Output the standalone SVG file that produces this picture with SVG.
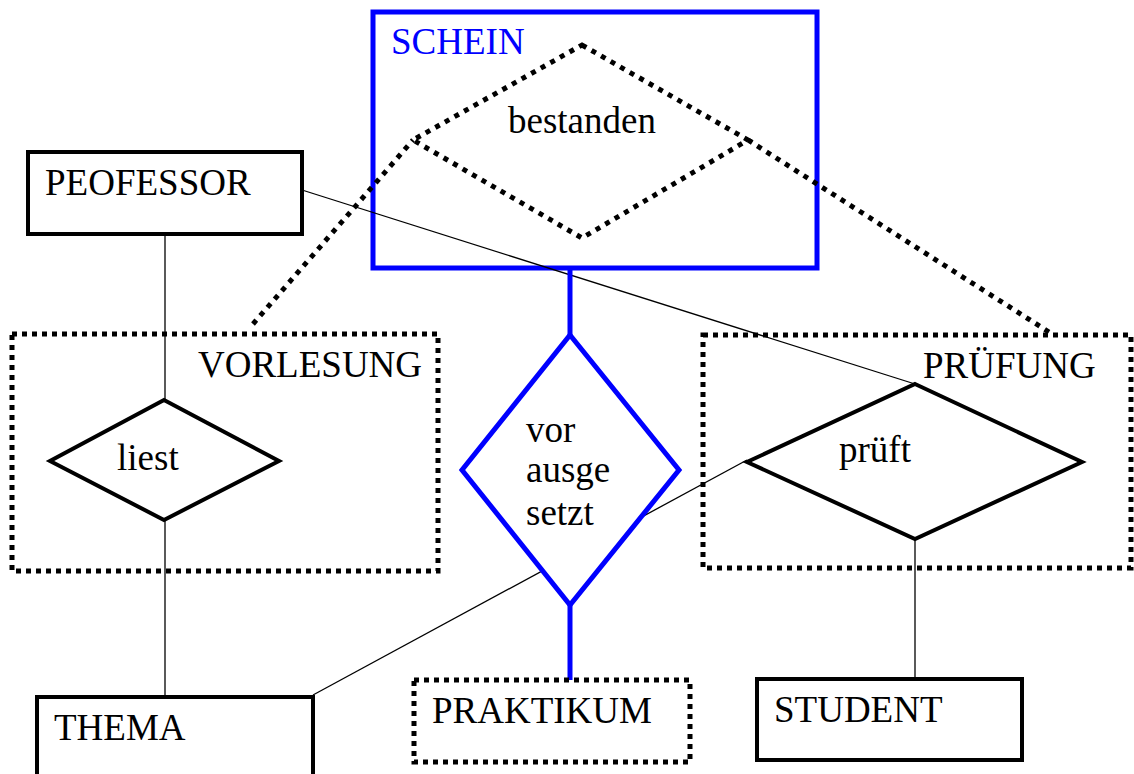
<svg xmlns="http://www.w3.org/2000/svg" width="1134" height="774" viewBox="0 0 1134 774">
  <style>
    text { font-family: "Liberation Serif", "Times New Roman", serif; font-size: 37px; fill: #000; }
    .blue-text { fill: #0000ff; }
    .entity { fill: #fff; stroke: #000; stroke-width: 4; }
    .weak { fill: none; stroke: #000; stroke-width: 5; stroke-dasharray: 5 5; }
    .rel { fill: #fff; stroke: #000; stroke-width: 4; stroke-linejoin: miter; }
    .agg { fill: none; stroke: #0000ff; stroke-width: 5; }
    .rel-blue { fill: #fff; stroke: #0000ff; stroke-width: 5; }
    .link { fill: none; stroke: #000; stroke-width: 1.3; }
    .link-blue { fill: none; stroke: #0000ff; stroke-width: 5; }
    .dotted { fill: none; stroke: #000; stroke-width: 5; stroke-dasharray: 5 6; }
  </style>

  <!-- aggregation boxes (drawn first, no fill) -->
  <g id="vorlesung">
    <rect class="weak" x="12" y="334" width="426" height="237"/>
    <text x="198" y="377">VORLESUNG</text>
  </g>
  <g id="pruefung">
    <rect class="weak" x="703" y="335" width="428" height="233"/>
    <text x="923" y="378">PRÜFUNG</text>
  </g>
  <g id="schein">
    <rect class="agg" x="373" y="12" width="444" height="256"/>
    <text class="blue-text" x="391" y="54">SCHEIN</text>
  </g>

  <!-- connectors -->
  <g id="connectors">
    <line class="link" x1="165" y1="234" x2="165" y2="400"/>
    <line class="link" x1="165" y1="520" x2="165" y2="697"/>
    <line class="link" x1="302" y1="190" x2="915" y2="384"/>
    <line class="link" x1="313" y1="695" x2="747" y2="460"/>
    <line class="link" x1="915" y1="539" x2="915" y2="679"/>
    <line class="link-blue" x1="570" y1="268" x2="570" y2="335"/>
    <line class="link-blue" x1="570" y1="605" x2="570" y2="680"/>
    <polyline class="dotted" points="253,324 413,140"/>
    <polyline class="dotted" points="748,140 1052,334"/>
  </g>

  <!-- relationships -->
  <g id="bestanden">
    <polygon class="dotted" points="582,45 748,140 582,238 413,140"/>
    <text x="508" y="133">bestanden</text>
  </g>
  <g id="liest">
    <polygon class="rel" points="164,400 279,461 164,520 50,461"/>
    <text x="117" y="470">liest</text>
  </g>
  <g id="prueft">
    <polygon class="rel" points="915,384 1082,462 915,539 747,462"/>
    <text x="839" y="462">prüft</text>
  </g>
  <g id="vorausgesetzt">
    <polygon class="rel-blue" points="570,335 679,470 570,605 462,470"/>
    <text x="526" y="442">vor</text>
    <text x="526" y="482">ausge</text>
    <text x="526" y="525">setzt</text>
  </g>

  <!-- entities -->
  <g id="professor">
    <rect class="entity" x="28" y="152" width="274" height="82"/>
    <text x="45" y="195">PEOFESSOR</text>
  </g>
  <g id="thema">
    <rect class="entity" x="37" y="697" width="276" height="90"/>
    <text x="54" y="740">THEMA</text>
  </g>
  <g id="praktikum">
    <rect class="weak" x="414" y="680" width="276" height="82"/>
    <text x="432" y="723">PRAKTIKUM</text>
  </g>
  <g id="student">
    <rect class="entity" x="757" y="679" width="265" height="81"/>
    <text x="774" y="722">STUDENT</text>
  </g>
</svg>
